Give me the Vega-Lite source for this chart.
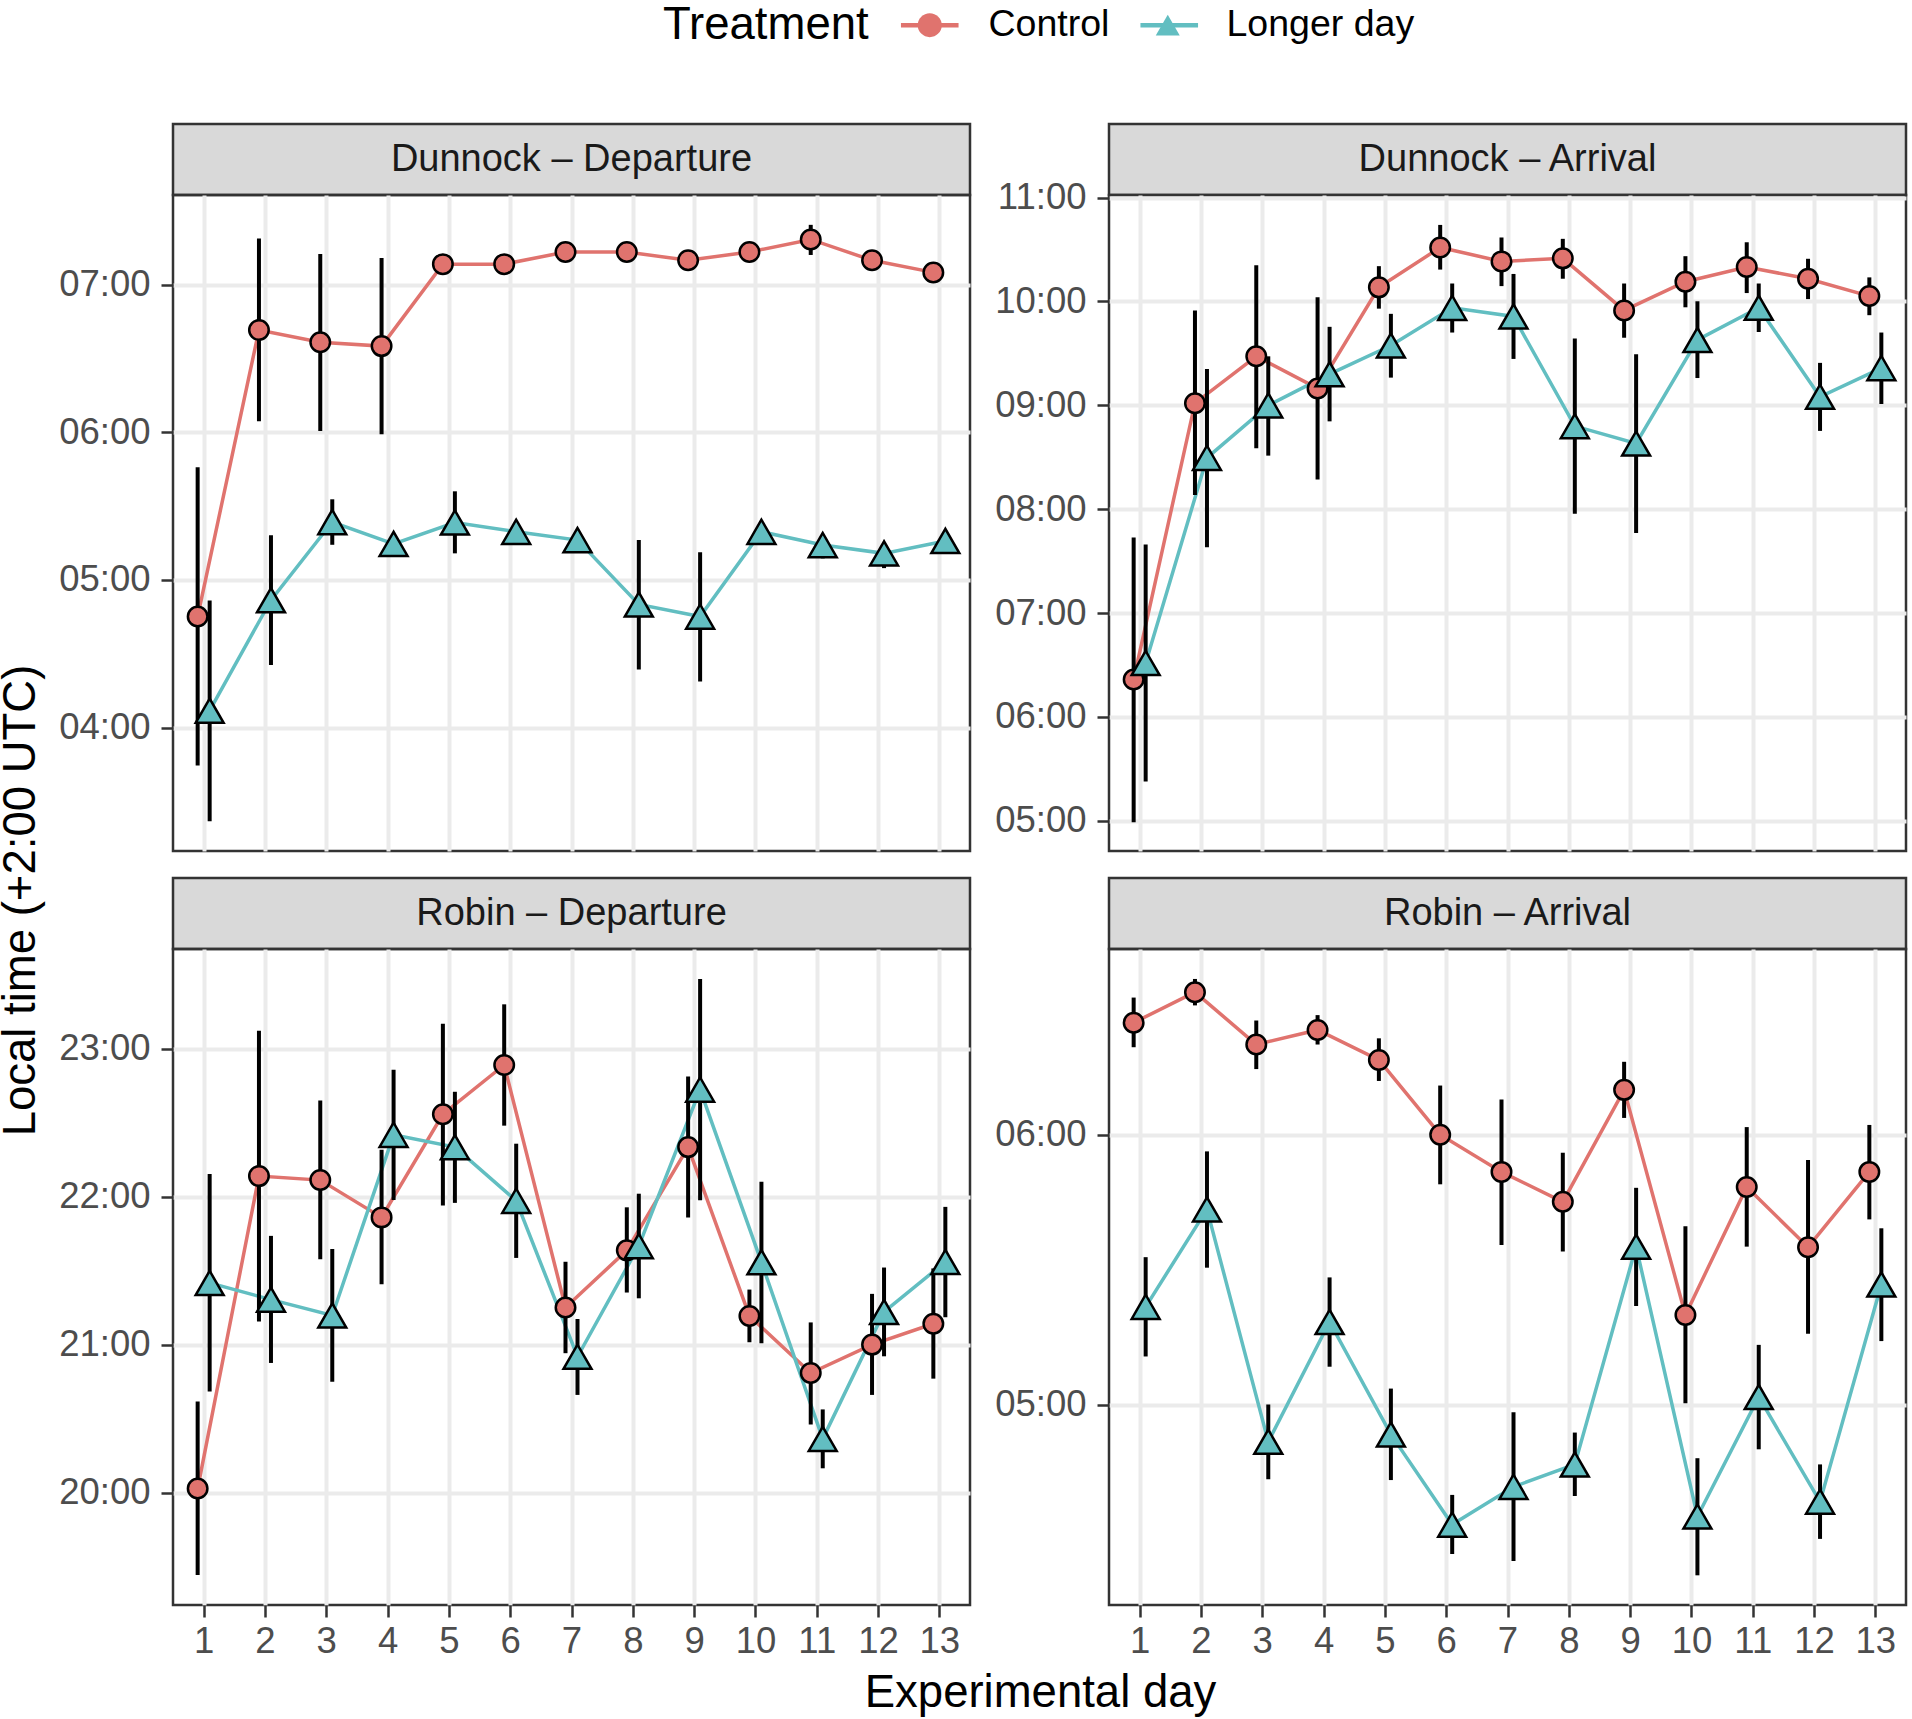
{
  "$schema": "https://vega.github.io/schema/vega-lite/v6.json",
  "background": "white",
  "padding": {"left": -4, "top": 6, "right": 2, "bottom": 4},
  "config": {
    "font": "Liberation Sans",
    "view": {"stroke": null},
    "axis": {
      "grid": true,
      "gridColor": "#EBEBEB",
      "gridWidth": 4,
      "domain": false,
      "tickColor": "#333333",
      "tickSize": 12,
      "tickWidth": 2.5,
      "labelFontSize": 36.5,
      "labelColor": "#4D4D4D",
      "labelPadding": 11,
      "titleFontWeight": "normal",
      "titleFontSize": 45.5,
      "titleColor": "black"
    },
    "legend": {
      "padding": 0,
      "titleFontWeight": "normal",
      "titleFontSize": 45.5,
      "labelFontSize": 37.5,
      "labelLimit": 400,
      "titleLimit": 400
    }
  },
  "datasets": {
    "obs": [
      {"species": "Dunnock", "event": "Departure", "treatment": "Control", "day": 1, "mean": 4.752, "lo": 3.744, "hi": 5.763},
      {"species": "Dunnock", "event": "Departure", "treatment": "Control", "day": 2, "mean": 6.692, "lo": 6.075, "hi": 7.312},
      {"species": "Dunnock", "event": "Departure", "treatment": "Control", "day": 3, "mean": 6.609, "lo": 6.009, "hi": 7.207},
      {"species": "Dunnock", "event": "Departure", "treatment": "Control", "day": 4, "mean": 6.583, "lo": 5.986, "hi": 7.18},
      {"species": "Dunnock", "event": "Departure", "treatment": "Control", "day": 5, "mean": 7.138, "lo": 7.11, "hi": 7.166},
      {"species": "Dunnock", "event": "Departure", "treatment": "Control", "day": 6, "mean": 7.138, "lo": 7.11, "hi": 7.166},
      {"species": "Dunnock", "event": "Departure", "treatment": "Control", "day": 7, "mean": 7.22, "lo": 7.19, "hi": 7.25},
      {"species": "Dunnock", "event": "Departure", "treatment": "Control", "day": 8, "mean": 7.22, "lo": 7.19, "hi": 7.25},
      {"species": "Dunnock", "event": "Departure", "treatment": "Control", "day": 9, "mean": 7.164, "lo": 7.14, "hi": 7.19},
      {"species": "Dunnock", "event": "Departure", "treatment": "Control", "day": 10, "mean": 7.22, "lo": 7.19, "hi": 7.25},
      {"species": "Dunnock", "event": "Departure", "treatment": "Control", "day": 11, "mean": 7.305, "lo": 7.2, "hi": 7.404},
      {"species": "Dunnock", "event": "Departure", "treatment": "Control", "day": 12, "mean": 7.164, "lo": 7.14, "hi": 7.19},
      {"species": "Dunnock", "event": "Departure", "treatment": "Control", "day": 13, "mean": 7.082, "lo": 7.06, "hi": 7.105},
      {"species": "Dunnock", "event": "Departure", "treatment": "Longer day", "day": 1, "mean": 4.115, "lo": 3.367, "hi": 4.86},
      {"species": "Dunnock", "event": "Departure", "treatment": "Longer day", "day": 2, "mean": 4.863, "lo": 4.424, "hi": 5.303},
      {"species": "Dunnock", "event": "Departure", "treatment": "Longer day", "day": 3, "mean": 5.392, "lo": 5.238, "hi": 5.546},
      {"species": "Dunnock", "event": "Departure", "treatment": "Longer day", "day": 4, "mean": 5.244, "lo": 5.22, "hi": 5.27},
      {"species": "Dunnock", "event": "Departure", "treatment": "Longer day", "day": 5, "mean": 5.389, "lo": 5.18, "hi": 5.6},
      {"species": "Dunnock", "event": "Departure", "treatment": "Longer day", "day": 6, "mean": 5.326, "lo": 5.3, "hi": 5.35},
      {"species": "Dunnock", "event": "Departure", "treatment": "Longer day", "day": 7, "mean": 5.27, "lo": 5.25, "hi": 5.29},
      {"species": "Dunnock", "event": "Departure", "treatment": "Longer day", "day": 8, "mean": 4.834, "lo": 4.394, "hi": 5.27},
      {"species": "Dunnock", "event": "Departure", "treatment": "Longer day", "day": 9, "mean": 4.752, "lo": 4.312, "hi": 5.188},
      {"species": "Dunnock", "event": "Departure", "treatment": "Longer day", "day": 10, "mean": 5.326, "lo": 5.3, "hi": 5.35},
      {"species": "Dunnock", "event": "Departure", "treatment": "Longer day", "day": 11, "mean": 5.236, "lo": 5.146, "hi": 5.29},
      {"species": "Dunnock", "event": "Departure", "treatment": "Longer day", "day": 12, "mean": 5.18, "lo": 5.08, "hi": 5.23},
      {"species": "Dunnock", "event": "Departure", "treatment": "Longer day", "day": 13, "mean": 5.264, "lo": 5.178, "hi": 5.3},
      {"species": "Dunnock", "event": "Arrival", "treatment": "Control", "day": 1, "mean": 6.361, "lo": 4.987, "hi": 7.727},
      {"species": "Dunnock", "event": "Arrival", "treatment": "Control", "day": 2, "mean": 9.021, "lo": 8.136, "hi": 9.914},
      {"species": "Dunnock", "event": "Arrival", "treatment": "Control", "day": 3, "mean": 9.472, "lo": 8.587, "hi": 10.349},
      {"species": "Dunnock", "event": "Arrival", "treatment": "Control", "day": 4, "mean": 9.163, "lo": 8.286, "hi": 10.04},
      {"species": "Dunnock", "event": "Arrival", "treatment": "Control", "day": 5, "mean": 10.136, "lo": 9.931, "hi": 10.34},
      {"species": "Dunnock", "event": "Arrival", "treatment": "Control", "day": 6, "mean": 10.52, "lo": 10.307, "hi": 10.737},
      {"species": "Dunnock", "event": "Arrival", "treatment": "Control", "day": 7, "mean": 10.386, "lo": 10.148, "hi": 10.616},
      {"species": "Dunnock", "event": "Arrival", "treatment": "Control", "day": 8, "mean": 10.415, "lo": 10.219, "hi": 10.603},
      {"species": "Dunnock", "event": "Arrival", "treatment": "Control", "day": 9, "mean": 9.914, "lo": 9.651, "hi": 10.173},
      {"species": "Dunnock", "event": "Arrival", "treatment": "Control", "day": 10, "mean": 10.19, "lo": 9.944, "hi": 10.436},
      {"species": "Dunnock", "event": "Arrival", "treatment": "Control", "day": 11, "mean": 10.332, "lo": 10.081, "hi": 10.57},
      {"species": "Dunnock", "event": "Arrival", "treatment": "Control", "day": 12, "mean": 10.219, "lo": 10.023, "hi": 10.411},
      {"species": "Dunnock", "event": "Arrival", "treatment": "Control", "day": 13, "mean": 10.052, "lo": 9.868, "hi": 10.232},
      {"species": "Dunnock", "event": "Arrival", "treatment": "Longer day", "day": 1, "mean": 6.52, "lo": 5.38, "hi": 7.66},
      {"species": "Dunnock", "event": "Arrival", "treatment": "Longer day", "day": 2, "mean": 8.495, "lo": 7.635, "hi": 9.351},
      {"species": "Dunnock", "event": "Arrival", "treatment": "Longer day", "day": 3, "mean": 9.0, "lo": 8.516, "hi": 9.472},
      {"species": "Dunnock", "event": "Arrival", "treatment": "Longer day", "day": 4, "mean": 9.3, "lo": 8.846, "hi": 9.756},
      {"species": "Dunnock", "event": "Arrival", "treatment": "Longer day", "day": 5, "mean": 9.576, "lo": 9.267, "hi": 9.881},
      {"species": "Dunnock", "event": "Arrival", "treatment": "Longer day", "day": 6, "mean": 9.939, "lo": 9.701, "hi": 10.173},
      {"species": "Dunnock", "event": "Arrival", "treatment": "Longer day", "day": 7, "mean": 9.856, "lo": 9.447, "hi": 10.265},
      {"species": "Dunnock", "event": "Arrival", "treatment": "Longer day", "day": 8, "mean": 8.8, "lo": 7.956, "hi": 9.643},
      {"species": "Dunnock", "event": "Arrival", "treatment": "Longer day", "day": 9, "mean": 8.633, "lo": 7.772, "hi": 9.493},
      {"species": "Dunnock", "event": "Arrival", "treatment": "Longer day", "day": 10, "mean": 9.63, "lo": 9.263, "hi": 10.002},
      {"species": "Dunnock", "event": "Arrival", "treatment": "Longer day", "day": 11, "mean": 9.94, "lo": 9.706, "hi": 10.173},
      {"species": "Dunnock", "event": "Arrival", "treatment": "Longer day", "day": 12, "mean": 9.083, "lo": 8.754, "hi": 9.409},
      {"species": "Dunnock", "event": "Arrival", "treatment": "Longer day", "day": 13, "mean": 9.359, "lo": 9.013, "hi": 9.701},
      {"species": "Robin", "event": "Departure", "treatment": "Control", "day": 1, "mean": 20.027, "lo": 19.442, "hi": 20.615},
      {"species": "Robin", "event": "Departure", "treatment": "Control", "day": 2, "mean": 22.139, "lo": 21.156, "hi": 23.122},
      {"species": "Robin", "event": "Departure", "treatment": "Control", "day": 3, "mean": 22.112, "lo": 21.577, "hi": 22.65},
      {"species": "Robin", "event": "Departure", "treatment": "Control", "day": 4, "mean": 21.86, "lo": 21.408, "hi": 22.317},
      {"species": "Robin", "event": "Departure", "treatment": "Control", "day": 5, "mean": 22.557, "lo": 21.94, "hi": 23.169},
      {"species": "Robin", "event": "Departure", "treatment": "Control", "day": 6, "mean": 22.89, "lo": 22.48, "hi": 23.3},
      {"species": "Robin", "event": "Departure", "treatment": "Control", "day": 7, "mean": 21.251, "lo": 20.942, "hi": 21.56},
      {"species": "Robin", "event": "Departure", "treatment": "Control", "day": 8, "mean": 21.637, "lo": 21.352, "hi": 21.928},
      {"species": "Robin", "event": "Departure", "treatment": "Control", "day": 9, "mean": 22.335, "lo": 21.86, "hi": 22.813},
      {"species": "Robin", "event": "Departure", "treatment": "Control", "day": 10, "mean": 21.194, "lo": 21.016, "hi": 21.372},
      {"species": "Robin", "event": "Departure", "treatment": "Control", "day": 11, "mean": 20.808, "lo": 20.46, "hi": 21.15},
      {"species": "Robin", "event": "Departure", "treatment": "Control", "day": 12, "mean": 21.0, "lo": 20.66, "hi": 21.343},
      {"species": "Robin", "event": "Departure", "treatment": "Control", "day": 13, "mean": 21.141, "lo": 20.77, "hi": 21.515},
      {"species": "Robin", "event": "Departure", "treatment": "Longer day", "day": 1, "mean": 21.417, "lo": 20.683, "hi": 22.154},
      {"species": "Robin", "event": "Departure", "treatment": "Longer day", "day": 2, "mean": 21.304, "lo": 20.876, "hi": 21.735},
      {"species": "Robin", "event": "Departure", "treatment": "Longer day", "day": 3, "mean": 21.197, "lo": 20.749, "hi": 21.646},
      {"species": "Robin", "event": "Departure", "treatment": "Longer day", "day": 4, "mean": 22.418, "lo": 21.978, "hi": 22.857},
      {"species": "Robin", "event": "Departure", "treatment": "Longer day", "day": 5, "mean": 22.335, "lo": 21.958, "hi": 22.709},
      {"species": "Robin", "event": "Departure", "treatment": "Longer day", "day": 6, "mean": 21.972, "lo": 21.586, "hi": 22.358},
      {"species": "Robin", "event": "Departure", "treatment": "Longer day", "day": 7, "mean": 20.918, "lo": 20.66, "hi": 21.173},
      {"species": "Robin", "event": "Departure", "treatment": "Longer day", "day": 8, "mean": 21.666, "lo": 21.313, "hi": 22.02},
      {"species": "Robin", "event": "Departure", "treatment": "Longer day", "day": 9, "mean": 22.724, "lo": 21.975, "hi": 23.472},
      {"species": "Robin", "event": "Departure", "treatment": "Longer day", "day": 10, "mean": 21.557, "lo": 21.01, "hi": 22.1},
      {"species": "Robin", "event": "Departure", "treatment": "Longer day", "day": 11, "mean": 20.363, "lo": 20.164, "hi": 20.562},
      {"species": "Robin", "event": "Departure", "treatment": "Longer day", "day": 12, "mean": 21.221, "lo": 20.921, "hi": 21.521},
      {"species": "Robin", "event": "Departure", "treatment": "Longer day", "day": 13, "mean": 21.559, "lo": 21.185, "hi": 21.931},
      {"species": "Robin", "event": "Arrival", "treatment": "Control", "day": 1, "mean": 6.415, "lo": 6.324, "hi": 6.508},
      {"species": "Robin", "event": "Arrival", "treatment": "Control", "day": 2, "mean": 6.528, "lo": 6.479, "hi": 6.577},
      {"species": "Robin", "event": "Arrival", "treatment": "Control", "day": 3, "mean": 6.334, "lo": 6.243, "hi": 6.423},
      {"species": "Robin", "event": "Arrival", "treatment": "Control", "day": 4, "mean": 6.388, "lo": 6.334, "hi": 6.443},
      {"species": "Robin", "event": "Arrival", "treatment": "Control", "day": 5, "mean": 6.277, "lo": 6.199, "hi": 6.357},
      {"species": "Robin", "event": "Arrival", "treatment": "Control", "day": 6, "mean": 6.0, "lo": 5.816, "hi": 6.182},
      {"species": "Robin", "event": "Arrival", "treatment": "Control", "day": 7, "mean": 5.862, "lo": 5.591, "hi": 6.13},
      {"species": "Robin", "event": "Arrival", "treatment": "Control", "day": 8, "mean": 5.751, "lo": 5.567, "hi": 5.933},
      {"species": "Robin", "event": "Arrival", "treatment": "Control", "day": 9, "mean": 6.166, "lo": 6.062, "hi": 6.27},
      {"species": "Robin", "event": "Arrival", "treatment": "Control", "day": 10, "mean": 5.332, "lo": 5.005, "hi": 5.661},
      {"species": "Robin", "event": "Arrival", "treatment": "Control", "day": 11, "mean": 5.806, "lo": 5.585, "hi": 6.028},
      {"species": "Robin", "event": "Arrival", "treatment": "Control", "day": 12, "mean": 5.583, "lo": 5.262, "hi": 5.906},
      {"species": "Robin", "event": "Arrival", "treatment": "Control", "day": 13, "mean": 5.862, "lo": 5.686, "hi": 6.036},
      {"species": "Robin", "event": "Arrival", "treatment": "Longer day", "day": 1, "mean": 5.362, "lo": 5.178, "hi": 5.546},
      {"species": "Robin", "event": "Arrival", "treatment": "Longer day", "day": 2, "mean": 5.723, "lo": 5.507, "hi": 5.938},
      {"species": "Robin", "event": "Arrival", "treatment": "Longer day", "day": 3, "mean": 4.862, "lo": 4.723, "hi": 5.0},
      {"species": "Robin", "event": "Arrival", "treatment": "Longer day", "day": 4, "mean": 5.306, "lo": 5.14, "hi": 5.471},
      {"species": "Robin", "event": "Arrival", "treatment": "Longer day", "day": 5, "mean": 4.889, "lo": 4.72, "hi": 5.059},
      {"species": "Robin", "event": "Arrival", "treatment": "Longer day", "day": 6, "mean": 4.555, "lo": 4.446, "hi": 4.665},
      {"species": "Robin", "event": "Arrival", "treatment": "Longer day", "day": 7, "mean": 4.695, "lo": 4.42, "hi": 4.971},
      {"species": "Robin", "event": "Arrival", "treatment": "Longer day", "day": 8, "mean": 4.778, "lo": 4.661, "hi": 4.896},
      {"species": "Robin", "event": "Arrival", "treatment": "Longer day", "day": 9, "mean": 5.585, "lo": 5.365, "hi": 5.803},
      {"species": "Robin", "event": "Arrival", "treatment": "Longer day", "day": 10, "mean": 4.585, "lo": 4.367, "hi": 4.801},
      {"species": "Robin", "event": "Arrival", "treatment": "Longer day", "day": 11, "mean": 5.028, "lo": 4.834, "hi": 5.221},
      {"species": "Robin", "event": "Arrival", "treatment": "Longer day", "day": 12, "mean": 4.64, "lo": 4.502, "hi": 4.778},
      {"species": "Robin", "event": "Arrival", "treatment": "Longer day", "day": 13, "mean": 5.445, "lo": 5.235, "hi": 5.653}
    ]
  },
  "columns": 2,
  "bounds": "flush",
  "spacing": {"row": 0, "column": 139},
  "concat": [
    {
      "width": 797, "height": 71,
      "data": {"values": [{"label": "Dunnock – Departure"}]},
      "view": {"fill": "#D9D9D9", "stroke": "#333333", "strokeWidth": 2.5},
      "mark": {"type": "text", "fontSize": 38, "color": "#1A1A1A"},
      "encoding": {"text": {"field": "label"}}
    },
    {
      "width": 797, "height": 71,
      "data": {"values": [{"label": "Dunnock – Arrival"}]},
      "view": {"fill": "#D9D9D9", "stroke": "#333333", "strokeWidth": 2.5},
      "mark": {"type": "text", "fontSize": 38, "color": "#1A1A1A"},
      "encoding": {"text": {"field": "label"}}
    },
    {
      "width": 797, "height": 656,
      "data": {"name": "obs"},
      "transform": [{"filter": "datum.species === 'Dunnock' && datum.event === 'Departure'"}],
      "view": {"stroke": "#333333", "strokeWidth": 2.5},
      "encoding": {
        "x": {"field": "day", "type": "ordinal", "scale": {"type": "point", "padding": 0.5},
              "axis": {"title": null, "labels": false, "ticks": false, "grid": true}},
        "xOffset": {"field": "treatment", "type": "nominal", "scale": {"type": "point", "range": [-6, 6], "padding": 0}},
        "y": {"field": "mean", "type": "quantitative", "scale": {"domain": [3.165, 7.606], "nice": false, "zero": false},
              "axis": {"values": [4, 5, 6, 7], "labelExpr": "(datum.value < 10 ? '0' : '') + datum.value + ':00'",
                       "title": "Local time (+2:00 UTC)", "titleAngle": 270, "titleX": -153, "titleY": 705,
                       "titleAlign": "center", "titleBaseline": "middle"}}
      },
      "layer": [
        {"mark": {"type": "line", "strokeWidth": 3.5},
         "encoding": {"color": {"field": "treatment", "type": "nominal",
           "scale": {"domain": ["Control", "Longer day"], "range": ["#E0736E", "#62BEC1"]},
           "legend": {"orient": "none", "legendX": 490, "legendY": -118, "direction": "horizontal",
                      "title": "Treatment", "titleOrient": "left", "titleColor": "transparent", "labelColor": "transparent",
                      "symbolType": "M-2.4,0L2.4,0", "symbolSize": 576, "symbolStrokeWidth": 4.5,
                      "titlePadding": 42, "labelOffset": 40, "columnPadding": 20.5}}}},
        {"mark": {"type": "rule", "color": "black", "strokeWidth": 4},
         "encoding": {"y": {"field": "lo", "type": "quantitative"}, "y2": {"field": "hi"}}},
        {"transform": [{"filter": "datum.treatment === 'Control'"}],
         "mark": {"type": "point", "filled": true, "stroke": "black", "strokeWidth": 2.5, "size": 380, "opacity": 1},
         "encoding": {
           "fill": {"field": "treatment", "type": "nominal", "scale": {"range": ["#E0736E", "#62BEC1"]},
             "legend": {"orient": "none", "legendX": 490, "legendY": -118, "direction": "horizontal",
                        "title": "Treatment", "titleOrient": "left", "titleColor": "black", "labelColor": "black",
                        "symbolSize": 576, "symbolStrokeColor": "black", "symbolStrokeWidth": 2.5,
                        "titlePadding": 42, "labelOffset": 40, "columnPadding": 39,
                        "encode": {"symbols": {"update": {"stroke": {"value": "black"}, "strokeWidth": {"value": 2.5}}}}}},
           "shape": {"field": "treatment", "type": "nominal", "scale": {"range": ["circle", "triangle-up"]},
             "legend": {"orient": "none", "legendX": 490, "legendY": -118, "direction": "horizontal",
                        "title": "Treatment", "titleOrient": "left", "titleColor": "black", "labelColor": "black",
                        "symbolSize": 576, "symbolStrokeColor": "black", "symbolStrokeWidth": 2.5,
                        "titlePadding": 42, "labelOffset": 40, "columnPadding": 39,
                        "encode": {"symbols": {"update": {"stroke": {"value": "black"}, "strokeWidth": {"value": 2.5}}}}}}}},
        {"transform": [{"filter": "datum.treatment === 'Longer day'"}],
         "mark": {"type": "point", "filled": true, "stroke": "black", "strokeWidth": 2.5, "size": 780, "opacity": 1},
         "encoding": {
           "fill": {"field": "treatment", "type": "nominal", "scale": {"range": ["#E0736E", "#62BEC1"]}},
           "shape": {"field": "treatment", "type": "nominal", "scale": {"range": ["circle", "triangle-up"]}}}}
      ]
    },
    {
      "width": 797, "height": 656,
      "data": {"name": "obs"},
      "transform": [{"filter": "datum.species === 'Dunnock' && datum.event === 'Arrival'"}],
      "view": {"stroke": "#333333", "strokeWidth": 2.5},
      "encoding": {
        "x": {"field": "day", "type": "ordinal", "scale": {"type": "point", "padding": 0.5},
              "axis": {"title": null, "labels": false, "ticks": false, "grid": true}},
        "xOffset": {"field": "treatment", "type": "nominal", "scale": {"type": "point", "range": [-6, 6], "padding": 0}},
        "y": {"field": "mean", "type": "quantitative", "scale": {"domain": [4.71, 11.025], "nice": false, "zero": false},
              "axis": {"values": [5, 6, 7, 8, 9, 10, 11], "labelExpr": "(datum.value < 10 ? '0' : '') + datum.value + ':00'", "title": null}}
      },
      "layer": [
        {"mark": {"type": "line", "strokeWidth": 3.5},
         "encoding": {"color": {"field": "treatment", "type": "nominal",
           "scale": {"domain": ["Control", "Longer day"], "range": ["#E0736E", "#62BEC1"]}}}},
        {"mark": {"type": "rule", "color": "black", "strokeWidth": 4},
         "encoding": {"y": {"field": "lo", "type": "quantitative"}, "y2": {"field": "hi"}}},
        {"transform": [{"filter": "datum.treatment === 'Control'"}],
         "mark": {"type": "point", "filled": true, "stroke": "black", "strokeWidth": 2.5, "size": 380, "opacity": 1},
         "encoding": {
           "fill": {"field": "treatment", "type": "nominal", "scale": {"range": ["#E0736E", "#62BEC1"]}},
           "shape": {"field": "treatment", "type": "nominal", "scale": {"range": ["circle", "triangle-up"]}}}},
        {"transform": [{"filter": "datum.treatment === 'Longer day'"}],
         "mark": {"type": "point", "filled": true, "stroke": "black", "strokeWidth": 2.5, "size": 780, "opacity": 1},
         "encoding": {
           "fill": {"field": "treatment", "type": "nominal", "scale": {"range": ["#E0736E", "#62BEC1"]}},
           "shape": {"field": "treatment", "type": "nominal", "scale": {"range": ["circle", "triangle-up"]}}}}
      ]
    },
    {
      "width": 797, "height": 27,
      "data": {"values": []},
      "mark": "text",
      "encoding": {}
    },
    {
      "width": 797, "height": 27,
      "data": {"values": []},
      "mark": "text",
      "encoding": {}
    },
    {
      "width": 797, "height": 71,
      "data": {"values": [{"label": "Robin – Departure"}]},
      "view": {"fill": "#D9D9D9", "stroke": "#333333", "strokeWidth": 2.5},
      "mark": {"type": "text", "fontSize": 38, "color": "#1A1A1A"},
      "encoding": {"text": {"field": "label"}}
    },
    {
      "width": 797, "height": 71,
      "data": {"values": [{"label": "Robin – Arrival"}]},
      "view": {"fill": "#D9D9D9", "stroke": "#333333", "strokeWidth": 2.5},
      "mark": {"type": "text", "fontSize": 38, "color": "#1A1A1A"},
      "encoding": {"text": {"field": "label"}}
    },
    {
      "width": 797, "height": 656,
      "data": {"name": "obs"},
      "transform": [{"filter": "datum.species === 'Robin' && datum.event === 'Departure'"}],
      "view": {"stroke": "#333333", "strokeWidth": 2.5},
      "encoding": {
        "x": {"field": "day", "type": "ordinal", "scale": {"type": "point", "padding": 0.5},
              "axis": {"labelAngle": 0, "grid": true, "labelPadding": 6,
                       "title": "Experimental day", "titleX": 867, "titleY": 87, "titleAlign": "center", "titleBaseline": "middle"}},
        "xOffset": {"field": "treatment", "type": "nominal", "scale": {"type": "point", "range": [-6, 6], "padding": 0}},
        "y": {"field": "mean", "type": "quantitative", "scale": {"domain": [19.24, 23.674], "nice": false, "zero": false},
              "axis": {"values": [20, 21, 22, 23], "labelExpr": "(datum.value < 10 ? '0' : '') + datum.value + ':00'", "title": null}}
      },
      "layer": [
        {"mark": {"type": "line", "strokeWidth": 3.5},
         "encoding": {"color": {"field": "treatment", "type": "nominal",
           "scale": {"domain": ["Control", "Longer day"], "range": ["#E0736E", "#62BEC1"]}}}},
        {"mark": {"type": "rule", "color": "black", "strokeWidth": 4},
         "encoding": {"y": {"field": "lo", "type": "quantitative"}, "y2": {"field": "hi"}}},
        {"transform": [{"filter": "datum.treatment === 'Control'"}],
         "mark": {"type": "point", "filled": true, "stroke": "black", "strokeWidth": 2.5, "size": 380, "opacity": 1},
         "encoding": {
           "fill": {"field": "treatment", "type": "nominal", "scale": {"range": ["#E0736E", "#62BEC1"]}},
           "shape": {"field": "treatment", "type": "nominal", "scale": {"range": ["circle", "triangle-up"]}}}},
        {"transform": [{"filter": "datum.treatment === 'Longer day'"}],
         "mark": {"type": "point", "filled": true, "stroke": "black", "strokeWidth": 2.5, "size": 780, "opacity": 1},
         "encoding": {
           "fill": {"field": "treatment", "type": "nominal", "scale": {"range": ["#E0736E", "#62BEC1"]}},
           "shape": {"field": "treatment", "type": "nominal", "scale": {"range": ["circle", "triangle-up"]}}}}
      ]
    },
    {
      "width": 797, "height": 656,
      "data": {"name": "obs"},
      "transform": [{"filter": "datum.species === 'Robin' && datum.event === 'Arrival'"}],
      "view": {"stroke": "#333333", "strokeWidth": 2.5},
      "encoding": {
        "x": {"field": "day", "type": "ordinal", "scale": {"type": "point", "padding": 0.5},
              "axis": {"labelAngle": 0, "grid": true, "labelPadding": 6, "title": null}},
        "xOffset": {"field": "treatment", "type": "nominal", "scale": {"type": "point", "range": [-6, 6], "padding": 0}},
        "y": {"field": "mean", "type": "quantitative", "scale": {"domain": [4.257, 6.688], "nice": false, "zero": false},
              "axis": {"values": [5, 6], "labelExpr": "(datum.value < 10 ? '0' : '') + datum.value + ':00'", "title": null}}
      },
      "layer": [
        {"mark": {"type": "line", "strokeWidth": 3.5},
         "encoding": {"color": {"field": "treatment", "type": "nominal",
           "scale": {"domain": ["Control", "Longer day"], "range": ["#E0736E", "#62BEC1"]}}}},
        {"mark": {"type": "rule", "color": "black", "strokeWidth": 4},
         "encoding": {"y": {"field": "lo", "type": "quantitative"}, "y2": {"field": "hi"}}},
        {"transform": [{"filter": "datum.treatment === 'Control'"}],
         "mark": {"type": "point", "filled": true, "stroke": "black", "strokeWidth": 2.5, "size": 380, "opacity": 1},
         "encoding": {
           "fill": {"field": "treatment", "type": "nominal", "scale": {"range": ["#E0736E", "#62BEC1"]}},
           "shape": {"field": "treatment", "type": "nominal", "scale": {"range": ["circle", "triangle-up"]}}}},
        {"transform": [{"filter": "datum.treatment === 'Longer day'"}],
         "mark": {"type": "point", "filled": true, "stroke": "black", "strokeWidth": 2.5, "size": 780, "opacity": 1},
         "encoding": {
           "fill": {"field": "treatment", "type": "nominal", "scale": {"range": ["#E0736E", "#62BEC1"]}},
           "shape": {"field": "treatment", "type": "nominal", "scale": {"range": ["circle", "triangle-up"]}}}}
      ]
    }
  ]
}
